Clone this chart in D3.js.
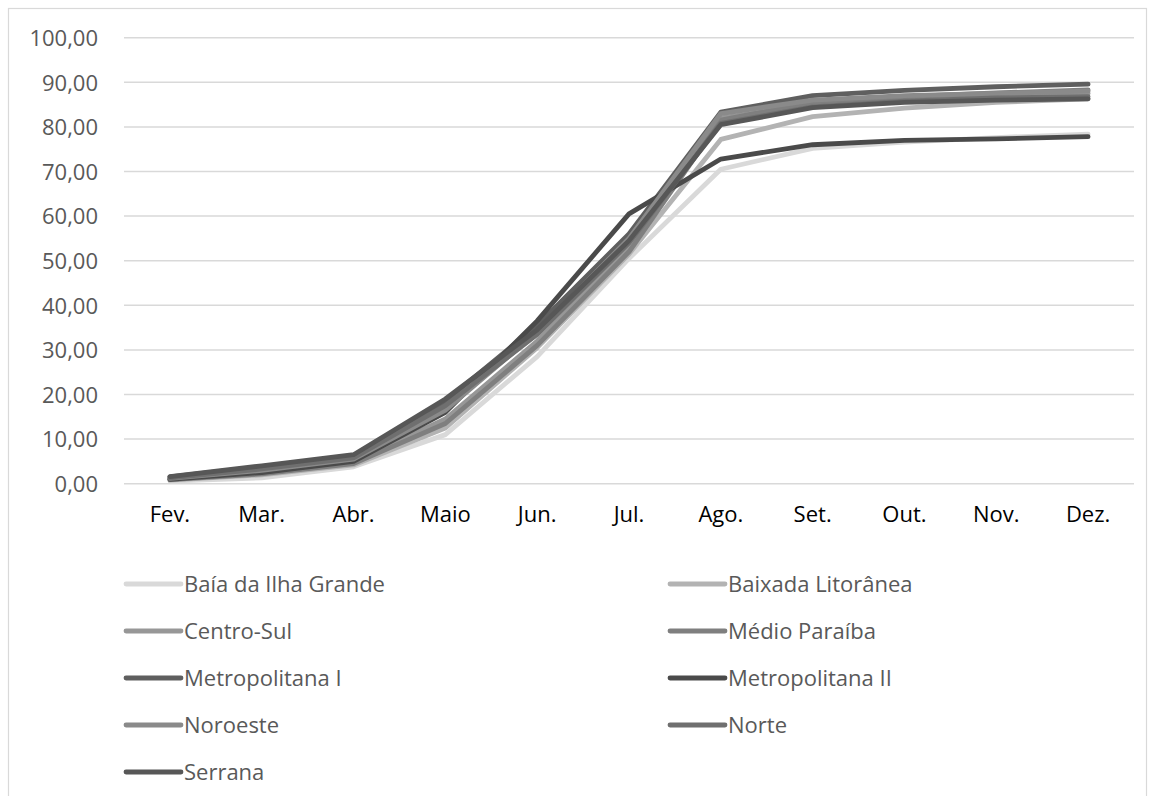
<!DOCTYPE html>
<html>
<head>
<meta charset="utf-8">
<script src="https://cdn.jsdelivr.net/npm/d3@7"></script>
<style>
  html, body { margin: 0; padding: 0; background: #fff; }
  svg { display: block; font-family: "Open Sans", "DejaVu Sans", sans-serif; }
</style>
</head>
<body>
<svg id="chart" width="1156" height="796"></svg>
<script>
// Months on the category axis
const months = ["Fev.", "Mar.", "Abr.", "Maio", "Jun.", "Jul.", "Ago.", "Set.", "Out.", "Nov.", "Dez."];

// Value-axis ticks
const yTicks = [0, 10, 20, 30, 40, 50, 60, 70, 80, 90, 100];

// Cumulative percentage per region
const regions = ["Baía da Ilha Grande", "Baixada Litorânea", "Centro-Sul", "Médio Paraíba",
                 "Metropolitana I", "Metropolitana II", "Noroeste", "Norte", "Serrana"];
const baiaIlhaGrande   = [0.6, 1.3, 3.8, 11.0, 28.5, 50.5, 70.5, 75.2, 76.6, 77.6, 78.4];
const baixadaLitoranea = [0.8, 2.0, 4.2, 12.5, 30.5, 51.5, 77.2, 82.3, 84.2, 85.5, 86.3];
const centroSul        = [1.0, 2.5, 4.8, 14.5, 32.0, 53.0, 82.0, 85.0, 86.0, 86.8, 87.5];
const medioParaiba     = [0.9, 2.2, 4.5, 13.5, 31.0, 52.0, 81.5, 85.5, 86.8, 87.6, 88.3];
const metropolitanaI   = [1.5, 3.8, 6.3, 18.5, 35.5, 56.0, 83.3, 87.0, 88.2, 89.0, 89.6];
const metropolitanaII  = [1.0, 2.5, 5.0, 16.0, 36.5, 60.5, 72.8, 76.0, 77.0, 77.3, 77.8];
const noroeste         = [1.2, 3.0, 5.5, 16.5, 34.0, 55.0, 83.0, 86.0, 87.0, 87.5, 88.0];
const norte            = [1.3, 3.3, 5.8, 17.5, 33.5, 54.0, 80.8, 84.5, 85.8, 86.5, 86.8];
const serrana          = [1.6, 4.0, 6.5, 19.0, 34.5, 54.5, 80.5, 84.3, 85.5, 86.0, 86.3];

const seriesValues = [baiaIlhaGrande, baixadaLitoranea, centroSul, medioParaiba,
                      metropolitanaI, metropolitanaII, noroeste, norte, serrana];
const seriesColors = ["#d9d9d9", "#b3b3b3", "#979797", "#7f7f7f",
                      "#5f5f5f", "#4a4a4a", "#8a8a8a", "#6f6f6f", "#575757"];

const series = regions.map((name, i) => ({ name, values: seriesValues[i], color: seriesColors[i] }));

const svg = d3.select("#chart");
const fontSize = "22px";

// Chart frame
svg.append("rect")
  .attr("x", 8.5).attr("y", 8.5)
  .attr("width", 1138).attr("height", 820)
  .attr("fill", "#fff")
  .attr("stroke", "#d9d9d9").attr("stroke-width", 1.2);

const plot = { left: 124, right: 1134, top: 37.7, bottom: 483.7 };

const x = d3.scaleBand().domain(months).range([plot.left, plot.right]).paddingInner(0).paddingOuter(0);
const y = d3.scaleLinear().domain([0, 100]).range([plot.bottom, plot.top]);

// Horizontal gridlines
svg.append("g")
  .selectAll("line")
  .data(yTicks)
  .join("line")
  .attr("x1", plot.left).attr("x2", plot.right)
  .attr("y1", d => y(d)).attr("y2", d => y(d))
  .attr("stroke", "#d9d9d9").attr("stroke-width", 1.5);

// Value axis labels
const fmt = d => d3.format(".2f")(d).replace(".", ",");
const yAxis = d3.axisLeft(y).tickValues(yTicks).tickFormat(fmt).tickSize(0).tickPadding(0);
const gy = svg.append("g").attr("transform", `translate(98,0)`).call(yAxis);
gy.select(".domain").remove();
gy.selectAll("text")
  .attr("fill", "#595959")
  .style("font-size", fontSize)
  .style("font-family", "'Open Sans', sans-serif")
  .attr("dy", "0.35em");

// Category axis labels
const xAxis = d3.axisBottom(x).tickSize(0).tickPadding(0);
const gx = svg.append("g").attr("transform", `translate(0,${plot.bottom + 23})`).call(xAxis);
gx.select(".domain").remove();
gx.selectAll("text")
  .attr("fill", "#000")
  .style("font-size", fontSize)
  .style("font-family", "'Open Sans', sans-serif")
  .attr("dy", "0.71em");

// Series lines
const line = d3.line()
  .x((d, i) => x(months[i]) + x.bandwidth() / 2)
  .y(d => y(d));

svg.append("g")
  .selectAll("path")
  .data(series)
  .join("path")
  .attr("d", d => line(d.values))
  .attr("fill", "none")
  .attr("stroke", d => d.color)
  .attr("stroke-width", 4.8)
  .attr("stroke-linejoin", "round")
  .attr("stroke-linecap", "round");

// Legend: two columns
const legend = svg.append("g");
const colX = [124, 668];
const rowY0 = 584, rowGap = 47;
const items = legend.selectAll("g")
  .data(series)
  .join("g")
  .attr("transform", (d, i) => `translate(${colX[i % 2]},${rowY0 + Math.floor(i / 2) * rowGap})`);
items.append("line")
  .attr("x1", 2).attr("x2", 57)
  .attr("y1", 0).attr("y2", 0)
  .attr("stroke", d => d.color)
  .attr("stroke-width", 4.8)
  .attr("stroke-linecap", "round");
items.append("text")
  .attr("x", 60).attr("y", 0)
  .attr("dy", "0.35em")
  .attr("fill", "#595959")
  .style("font-size", fontSize)
  .text(d => d.name);
</script>
</body>
</html>
